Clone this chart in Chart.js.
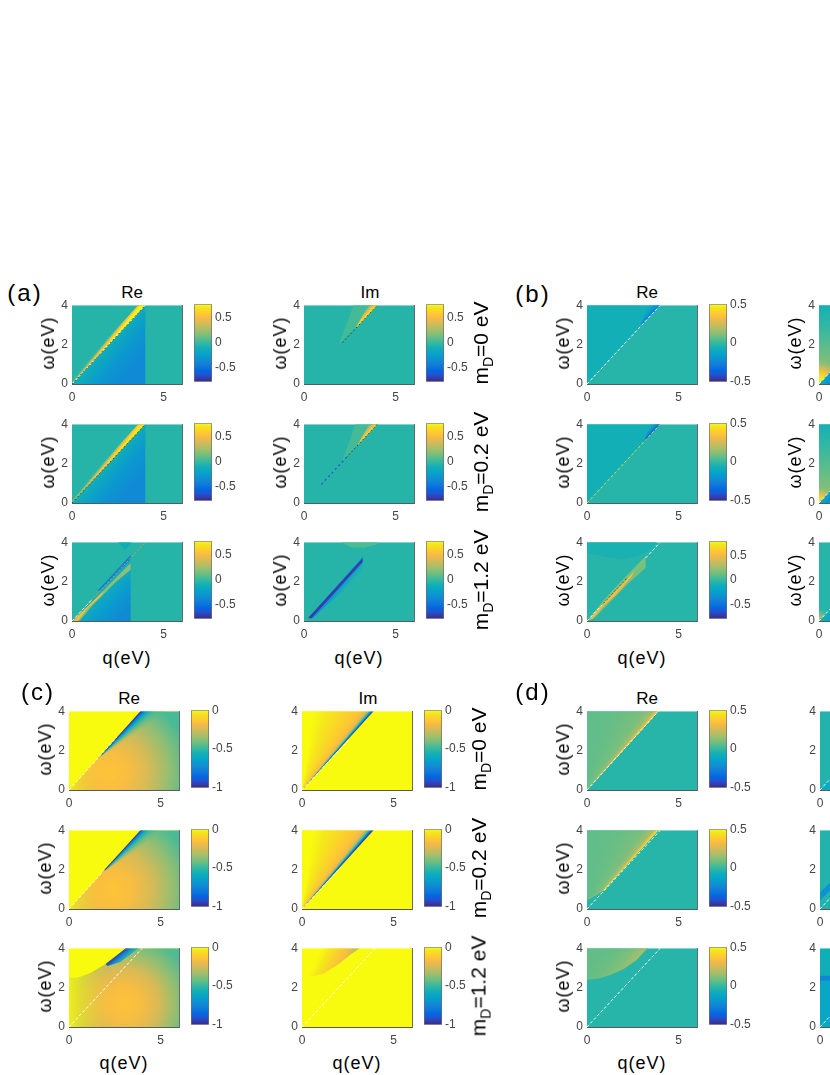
<!DOCTYPE html>
<html>
<head>
<meta charset="utf-8">
<title>Re / Im maps</title>
<script src="https://cdn.jsdelivr.net/npm/chart.js@4.4.1/dist/chart.umd.min.js"></script>
<style>
  html, body { margin: 0; padding: 0; background: #fff; }
  body { position: relative; width: 830px; height: 1075px; overflow: hidden;
         font-family: "Liberation Sans", Arial, Helvetica, sans-serif; color: #000; }
  canvas { position: absolute; }
  .txt { position: absolute; white-space: nowrap; line-height: 1; transform: translate(-50%, -50%); }
  .rot { transform: translate(-50%, -50%) rotate(-90deg); }
  .sub { font-size: 0.67em; position: relative; top: 0.32em; }
</style>
</head>
<body>
<script>
// axes of every map: q(eV) along x, omega(eV) along y
var qTicks = [0, 5];
var wTicks = [0, 2, 4];
var qRange = [0, 6];
var wRange = [0, 4];
var fullBox = [[0, 0], [6, 0], [6, 4], [0, 4]];

// colour bar limits and ticks
var limA = [-0.78, 0.78];
var limB = [-0.5, 0.5];
var limB3 = [-0.8, 0.8];
var limC = [-1, 0];
var limD = [-0.5, 0.5];
var cbTicksHalf = [-0.5, 0, 0.5];
var cbTicksC = [-1, -0.5, 0];

var massLabels = ['0', '0.2', '1.2'];

// regions of each map
// v: one value, lin / rad / fan: value stops across the region, l: dashed line
var aRe1 = [
  {p: fullBox, v: -0.04},
  {p: [[0, 0], [4, 4], [4, 0]], lin: [2, 2, 3.4, 0.9], s: [-0.12, -0.28, -0.36]},
  {p: [[0, 0], [4, 4], [3.6, 4], [0, 0.35]], lin: [2, 2, 1.74, 2.2], s: [0.76, 0.62, 0.35, [0.08, 0.5], [-0.04, 0]]},
  {l: [[0, 0], [4, 4]], k: 'white'},
  {l: [[0, 0], [4, 4]], k: 'dark'}
];
var aRe2 = [
  {p: fullBox, v: -0.04},
  {p: [[0, 0], [4, 4], [4, 0]], lin: [2, 2, 3.4, 0.9], s: [-0.12, -0.28, -0.36]},
  {p: [[0, 0], [4, 4], [3.6, 4], [0, 0.35]], lin: [2, 2, 1.74, 2.2], s: [0.7, 0.56, 0.3, [0.06, 0.5], [-0.04, 0]]},
  {l: [[0, 0], [4, 4]], k: 'dark'}
];
var aRe3 = [
  {p: fullBox, v: -0.04},
  {p: [[0, 0], [3.2, 3.1], [3.2, 0]], lin: [1.8, 1.7, 3.0, 0.6], s: [-0.1, -0.26, -0.35]},
  {p: [[0.05, 0], [1.2, 1.05], [2.4, 2.2], [3.2, 2.95], [3.2, 2.6], [2.3, 1.9], [1.1, 0.78], [0.4, 0]], v: 0.2},
  {p: [[0.05, 0], [1.0, 0.88], [1.7, 1.5], [1.6, 1.3], [0.9, 0.7], [0.3, 0]], v: 0.52},
  {p: [[1.4, 1.55], [3.2, 3.35], [3.2, 3.12], [1.5, 1.5]], v: -0.42},
  {p: [[2.5, 4], [2.9, 3.6], [3.25, 4]], v: -0.12},
  {l: [[0, 0], [4, 4]], k: 'orange'},
  {l: [[0, 0], [1.1, 1.1]], k: 'white'}
];
var aIm1 = [
  {p: fullBox, v: -0.04},
  {p: [[1.9, 2.0], [2.7, 4], [4, 4]], v: 0.04},
  {p: [[2.8, 2.8], [3.5, 4], [4, 4]], fan: [[1.0, 0.72], [1.04, 0.55], [1.09, 0.3], [1.15, 0.06, 0]]},
  {l: [[2.1, 2.1], [4, 4]], k: 'dark'}
];
var aIm2 = [
  {p: fullBox, v: -0.04},
  {p: [[2.1, 2.15], [2.8, 4], [4, 4]], v: 0.04},
  {p: [[2.9, 2.9], [3.55, 4], [4, 4]], fan: [[1.0, 0.65], [1.05, 0.45], [1.1, 0.2], [1.16, 0.05, 0]]},
  {l: [[0.95, 0.95], [2.3, 2.3]], k: 'blue'},
  {l: [[2.3, 2.3], [4, 4]], k: 'dark'}
];
var aIm3 = [
  {p: fullBox, v: -0.04},
  {p: [[2.0, 4], [2.6, 3.75], [3.3, 3.72], [4, 3.9], [4, 4]], v: 0.06},
  {p: [[0.25, 0.15], [3.2, 3.25], [3.2, 2.25], [2.2, 1.55], [1.0, 0.6], [0.5, 0.15]], lin: [1.7, 1.75, 2.15, 1.4], s: [-0.45, -0.3, [-0.18, 0.6], [-0.1, 0]]},
  {p: [[0.22, 0.15], [3.2, 3.2], [3.2, 3.0], [0.4, 0.13]], v: -0.7}
];

var bRe1 = [
  {p: fullBox, v: -0.025},
  {p: [[0, 0], [4, 4], [0, 4]], v: -0.065},
  {p: [[2.9, 2.9], [3.3, 4], [4, 4]], fan: [[1.0, -0.28], [1.06, -0.19], [1.15, -0.11, 0.5], [1.22, -0.065, 0]]},
  {l: [[0, 0], [4, 4]], k: 'white'}
];
var bRe2 = [
  {p: fullBox, v: -0.025},
  {p: [[0, 0], [4, 4], [0, 4]], v: -0.065},
  {p: [[3.1, 3.1], [3.45, 4], [4, 4]], fan: [[1.0, -0.36], [1.05, -0.24], [1.12, -0.11, 0.5], [1.18, -0.065, 0]]},
  {l: [[0, 0], [4, 4]], k: 'yellow'}
];
var bRe3 = [
  {p: fullBox, v: -0.04},
  {p: [[0, 4], [0, 3.45], [1.0, 3.25], [2.0, 3.15], [2.8, 3.3], [3.4, 3.6], [3.8, 4]], v: -0.08},
  {p: [[0, 0], [0.9, 1.05], [1.9, 2.05], [3.2, 3.3], [3.2, 2.7], [2.2, 1.85], [1.2, 0.9], [0.4, 0.15]], v: 0.16},
  {p: [[0.1, 0.05], [1.0, 1.0], [1.9, 1.85], [2.6, 2.55], [2.4, 2.2], [1.6, 1.35], [0.9, 0.75], [0.3, 0.1]], v: 0.5},
  {l: [[0, 0], [0.8, 0.8]], k: 'white'},
  {l: [[3.2, 3.2], [4, 4]], k: 'white'},
  {l: [[0.9, 0.9], [2.2, 2.2]], k: 'dark'}
];
var bIm1 = [
  {p: fullBox, v: -0.03},
  {p: [[0, 0], [4, 4], [0, 4]], lin: [0, 4, 0, 0.6], s: [-0.06, 0.0, 0.07, 0.14]},
  {p: [[0, 0], [1.6, 1.6], [0, 1.6]], rad: [0, 0, 1.3], s: [0.5, 0.45, [0.3, 0.8], [0.15, 0]]},
  {p: [[0, 0], [4, 4], [4, 0]], lin: [0.3, 0.3, 0.9, -0.1], s: [-0.12, -0.28]},
  {l: [[0, 0], [4, 4]], k: 'white'}
];
var bIm2 = [
  {p: fullBox, v: -0.03},
  {p: [[0, 0], [4, 4], [0, 4]], lin: [0, 4, 0, 0.6], s: [-0.06, 0.0, 0.06, 0.12]},
  {p: [[0, 0], [1.2, 1.2], [0, 1.2]], rad: [0, 0, 0.9], s: [0.48, 0.4, [0.25, 0.8], [0.12, 0]]},
  {p: [[0, 0], [4, 4], [4, 0]], lin: [0.3, 0.3, 0.9, -0.1], s: [-0.12, -0.28]},
  {l: [[0, 0], [4, 4]], k: 'white'}
];
var bIm3 = [
  {p: fullBox, v: -0.04},
  {p: [[0, 0], [0.9, 0.9], [0, 0.9]], rad: [0, 0, 0.7], s: [0.45, [0.25, 0.7], [0.1, 0]]},
  {p: [[0, 0], [4, 4], [4, 0]], lin: [0.2, 0.2, 0.8, -0.2], s: [-0.1, -0.25]},
  {l: [[0, 0], [4, 4]], k: 'white'}
];

var cRe1 = [
  {p: fullBox, v: 0},
  {p: [[0, 0], [3.9, 4], [6, 4], [6, 0]], rad: [2.2, 0.9, 4.4], s: [-0.14, -0.17, -0.25, -0.36, -0.47]},
  {p: [[0, 0], [3.9, 4], [6, 4], [6, 0]], lin: [0, 0, 1.8, 0], s: [[-0.03, 0.9], [-0.08, 0.45], [-0.12, 0]]},
  {p: [[1.6, 1.63], [3.9, 4], [5.7, 4]], o: [1.6, 1.6], fan: [[1.04, -1], [0.98, -0.82], [0.92, -0.65], [0.84, -0.55, 0.8], [0.73, -0.47, 0.4], [0.63, -0.45, 0]]},
  {l: [[0, 0], [2.6, 2.67]], k: 'white'}
];
var cRe2 = [
  {p: fullBox, v: 0},
  {p: [[0, 0], [3.9, 4], [6, 4], [6, 0]], rad: [2.4, 1.0, 4.4], s: [-0.14, -0.17, -0.25, -0.36, -0.47]},
  {p: [[0, 0], [3.9, 4], [6, 4], [6, 0]], lin: [0, 0, 1.8, 0], s: [[-0.03, 0.9], [-0.08, 0.45], [-0.12, 0]]},
  {p: [[1.8, 1.85], [3.9, 4], [5.5, 4]], o: [1.8, 1.8], fan: [[1.05, -1], [0.99, -0.8], [0.93, -0.62], [0.85, -0.53, 0.8], [0.74, -0.47, 0.4], [0.64, -0.45, 0]]},
  {l: [[0, 0], [2.0, 2.05]], k: 'white'}
];
var cRe3Edge = [[0, 0], [0, 2.45], [0.5, 2.5], [1.2, 2.75], [2.0, 3.2], [2.7, 3.7], [3.1, 4], [6, 4], [6, 0]];
var cRe3 = [
  {p: fullBox, v: 0},
  {p: cRe3Edge, rad: [3.0, 1.2, 3.8], s: [-0.15, -0.17, -0.24, -0.36, -0.46]},
  {p: cRe3Edge, lin: [0, 0, 2.2, 0], s: [[-0.02, 0.95], [-0.06, 0.5], [-0.12, 0]]},
  {p: [[2.0, 3.2], [2.7, 3.7], [3.1, 4], [3.8, 4], [2.8, 3.3], [2.1, 3.1]], lin: [2.75, 3.75, 3.2, 3.25], s: [-0.95, -0.7, [-0.55, 0.8], [-0.45, 0]]},
  {l: [[0, 0], [4, 4]], k: 'white'}
];
var cIm1 = [
  {p: fullBox, v: 0},
  {p: [[0, 0], [3.9, 4], [0, 4]], fan: [[1.025, -1], [1.045, -0.85], [1.07, -0.58], [1.1, -0.38], [1.15, -0.2], [1.3, -0.14], [1.7, -0.09], [3, -0.04], [7, 0]]},
  {l: [[0, 0], [2.6, 2.6]], k: 'white'}
];
var cIm2 = [
  {p: fullBox, v: 0},
  {p: [[0, 0], [3.9, 4], [0, 4]], fan: [[1.025, -1], [1.05, -0.9], [1.08, -0.6], [1.12, -0.38], [1.18, -0.2], [1.35, -0.14], [1.8, -0.09], [3, -0.04], [7, 0]]},
  {l: [[0, 0], [2.2, 2.2]], k: 'white'}
];
var cIm3 = [
  {p: fullBox, v: 0},
  {p: [[0.3, 2.5], [1.2, 2.72], [2.0, 3.2], [2.7, 3.72], [3.15, 4], [0.3, 4]], lin: [2.95, 3.8, 1.3, 4.6], s: [-0.32, -0.17, -0.1, -0.04, [0, 0]]},
  {l: [[0, 0], [4, 4]], k: 'white'}
];

var dRe1 = [
  {p: fullBox, v: -0.025},
  {p: [[0, 0], [3.9, 4], [0, 4]], fan: [[1.025, 0.48], [1.05, 0.32], [1.1, 0.16], [1.3, 0.1], [2.2, 0.075], [6, 0.065]]},
  {l: [[0, 0], [3.9, 4]], k: 'white'}
];
var dRe2 = [
  {p: fullBox, v: -0.025},
  {p: [[0, 0.45], [0.5, 0.68], [1.0, 1.0], [1.2, 1.23], [3.9, 4], [0, 4]], fan: [[1.025, 0.5], [1.05, 0.34], [1.1, 0.17], [1.3, 0.1], [2.2, 0.075], [6, 0.065]]},
  {l: [[0, 0], [4, 4]], k: 'white'}
];
var dRe3 = [
  {p: fullBox, v: -0.025},
  {p: [[0, 2.4], [0.6, 2.45], [1.3, 2.65], [2.0, 2.95], [2.7, 3.4], [3.3, 4], [0, 4]], lin: [2.7, 3.3, 1.4, 4.3], s: [0.18, 0.11, 0.08, 0.07]},
  {l: [[0, 0], [4, 4]], k: 'white'}
];
var dIm1 = [
  {p: fullBox, v: -0.035},
  {p: [[0, 0], [1.5, 1.5], [1.5, 0]], v: -0.1},
  {l: [[0, 0], [4, 4]], k: 'white'}
];
var dIm2 = [
  {p: fullBox, v: -0.035},
  {p: [[0, 0.45], [0, 0.85], [1.2, 1.9], [1.2, 1.5]], v: -0.2},
  {l: [[0, 0], [4, 4]], k: 'white'}
];
var dIm3 = [
  {p: fullBox, v: -0.07},
  {p: [[0, 0], [0, 2.4], [1.5, 2.4], [1.5, 0]], v: -0.12},
  {p: [[0, 2.35], [0, 2.6], [1.5, 2.6], [1.5, 2.35]], v: -0.24},
  {l: [[0, 0], [4, 4]], k: 'white'}
];

// ---- styles ----
var lineStyles = {
  white: {color: 'rgba(255,255,255,0.95)', width: 1, dash: [3, 2]},
  dark: {color: 'rgba(60,45,20,0.85)', width: 1, dash: [1.5, 2.5]},
  orange: {color: 'rgba(235,160,40,0.95)', width: 1, dash: [2, 2]},
  blue: {color: 'rgba(50,70,220,0.95)', width: 1.2, dash: [2, 3]},
  yellow: {color: 'rgba(230,220,60,0.95)', width: 1, dash: [3, 2]}
};

// parula colour map
var parula = [
  [0 / 63, 0.2081, 0.1663, 0.5292], [3 / 63, 0.2081, 0.2386, 0.6771],
  [6 / 63, 0.1253, 0.3242, 0.8303], [9 / 63, 0.0060, 0.4086, 0.8828],
  [13 / 63, 0.0629, 0.4737, 0.8554], [18 / 63, 0.0641, 0.5570, 0.8240],
  [22 / 63, 0.0239, 0.6287, 0.8038], [27 / 63, 0.0590, 0.6838, 0.7254],
  [32 / 63, 0.2178, 0.7250, 0.6193], [37 / 63, 0.4420, 0.7481, 0.5033],
  [42 / 63, 0.6473, 0.7456, 0.4188], [47 / 63, 0.8185, 0.7327, 0.3498],
  [51 / 63, 0.9450, 0.7261, 0.2886], [54 / 63, 0.9990, 0.7653, 0.2164],
  [57 / 63, 0.9789, 0.8271, 0.1633], [60 / 63, 0.9589, 0.8949, 0.1132],
  [63 / 63, 0.9763, 0.9831, 0.0538]
];

function parulaRgb(t) {
  t = Math.max(0, Math.min(1, t));
  for (var i = 1; i < parula.length; i++) {
    if (t <= parula[i][0]) {
      var a = parula[i - 1], b = parula[i];
      var f = (t - a[0]) / (b[0] - a[0]);
      return [1, 2, 3].map(function (j) { return Math.round(255 * (a[j] + f * (b[j] - a[j]))); });
    }
  }
  return [249, 251, 14];
}

function colorOf(v, lim, a) {
  var c = parulaRgb((v - lim[0]) / (lim[1] - lim[0]));
  return 'rgba(' + c[0] + ',' + c[1] + ',' + c[2] + ',' + (a === undefined ? 1 : a) + ')';
}

function stopOf(s) {
  return Array.isArray(s) ? s : [s, 1];
}

// builds the fill of one region from the chart's own scales
function paint(chart, it, lim) {
  if (it.v !== undefined) return colorOf(it.v, lim, 1);
  var xs = chart.scales.x, ys = chart.scales.y, c = chart.ctx;
  if (!chart.chartArea || !xs || !ys) return 'rgba(0,0,0,0)';
  var X = function (q) { return xs.getPixelForValue(q); };
  var Y = function (w) { return ys.getPixelForValue(w); };
  if (!isFinite(X(0)) || !isFinite(Y(0))) return 'rgba(0,0,0,0)';
  var g, stops;
  if (it.lin) {
    g = c.createLinearGradient(X(it.lin[0]), Y(it.lin[1]), X(it.lin[2]), Y(it.lin[3]));
    stops = it.s.map(function (s, i) { return [i / (it.s.length - 1), stopOf(s)]; });
  } else if (it.rad) {
    var r = it.rad[2] * (X(1) - X(0));
    g = c.createRadialGradient(X(it.rad[0]), Y(it.rad[1]), 0, X(it.rad[0]), Y(it.rad[1]), r);
    stops = it.s.map(function (s, i) { return [i / (it.s.length - 1), stopOf(s)]; });
  } else if (it.fan) {
    var o = it.o || [0, 0];
    var ox = X(o[0]), oy = Y(o[1]);
    if (!c.createConicGradient) return colorOf(it.fan[Math.floor(it.fan.length / 2)][1], lim, 1);
    g = c.createConicGradient(-Math.PI / 2, ox, oy);
    stops = it.fan.map(function (f) {
      var ang = Math.atan2(Y(o[1] + f[0]) - oy, X(o[0] + 1) - ox) + Math.PI / 2;
      return [ang / (2 * Math.PI), [f[1], f[2] === undefined ? 1 : f[2]]];
    }).sort(function (a, b) { return a[0] - b[0]; });
  }
  stops.forEach(function (s) { g.addColorStop(s[0], colorOf(s[1][0], lim, s[1][1])); });
  return g;
}

Chart.defaults.font.family = '"Liberation Sans", Arial, Helvetica, sans-serif';
Chart.defaults.font.size = 12;
Chart.defaults.color = '#444444';

var AX_W = 110, AX_H = 82, PAD_L = 22, PAD_T = 8, PAD_R = 8, PAD_B = 22, CB_W = 18, CB_LAB = 36;

function makeCanvas(left, top, w, h) {
  var cv = document.createElement('canvas');
  cv.width = w; cv.height = h;
  cv.style.left = left + 'px'; cv.style.top = top + 'px';
  cv.style.width = w + 'px'; cv.style.height = h + 'px';
  document.body.appendChild(cv);
  return cv;
}

function tickList(values) {
  return function (s) { s.ticks = values.map(function (v) { return {value: v}; }); };
}

var noGrid = {display: false, drawTicks: false, tickLength: 0};

function drawMap(left, top, lim, items) {
  var cv = makeCanvas(left - PAD_L, top - PAD_T, AX_W + PAD_L + PAD_R, AX_H + PAD_T + PAD_B);
  var sets = items.map(function (it, i) {
    var pts = it.l ? it.l : it.p.concat([it.p[0]]);
    var ds = {
      data: pts.map(function (d) { return {x: d[0], y: d[1]}; }),
      pointRadius: 0, pointHoverRadius: 0, pointBorderWidth: 0,
      pointBackgroundColor: 'rgba(0,0,0,0)', pointBorderColor: 'rgba(0,0,0,0)',
      tension: 0, order: 1000 - i, xAxisID: 'x', yAxisID: 'y'
    };
    if (it.l) {
      var st = lineStyles[it.k];
      ds.borderColor = st.color; ds.borderWidth = st.width; ds.borderDash = st.dash; ds.fill = false;
    } else {
      ds.fill = 'shape'; ds.borderWidth = 0; ds.borderColor = 'rgba(0,0,0,0)';
      ds.backgroundColor = function (ctx) { return paint(ctx.chart, it, lim); };
    }
    return ds;
  });
  new Chart(cv, {
    type: 'line',
    data: {datasets: sets},
    options: {
      responsive: false, animation: false, events: [],
      layout: {padding: {left: 0, top: PAD_T, right: PAD_R, bottom: 0}},
      plugins: {legend: {display: false}, tooltip: {enabled: false}},
      scales: {
        x: {
          type: 'linear', min: qRange[0], max: qRange[1],
          grid: noGrid, border: {display: true, color: '#5a5a5a', width: 1},
          ticks: {padding: 6, maxRotation: 0, autoSkip: false, callback: function (v) { return String(v); }},
          afterBuildTicks: tickList(qTicks),
          afterFit: function (s) { s.height = PAD_B; }
        },
        y: {
          type: 'linear', min: wRange[0], max: wRange[1],
          grid: noGrid, border: {display: false},
          ticks: {padding: 4, autoSkip: false, callback: function (v) { return String(v); }},
          afterBuildTicks: tickList(wTicks),
          afterFit: function (s) { s.width = PAD_L; }
        },
        yr: {
          type: 'linear', axis: 'y', position: 'right', min: wRange[0], max: wRange[1],
          grid: noGrid, ticks: {display: false},
          border: {display: true, color: '#6a6a6a', width: 1},
          afterFit: function (s) { s.width = 0; }
        }
      }
    }
  });
}

function drawColorBar(left, top, lim, ticks) {
  var cv = makeCanvas(left, top - PAD_T, CB_W + CB_LAB, AX_H + PAD_T + 8);
  new Chart(cv, {
    type: 'bar',
    data: {
      labels: [''],
      datasets: [{
        data: [[lim[0], lim[1]]],
        backgroundColor: function (ctx) {
          var ch = ctx.chart, ys = ch.scales.y;
          if (!ch.chartArea || !ys) return 'rgba(0,0,0,0)';
          var y0 = ys.getPixelForValue(lim[0]), y1 = ys.getPixelForValue(lim[1]);
          if (!isFinite(y0) || !isFinite(y1)) return 'rgba(0,0,0,0)';
          var g = ch.ctx.createLinearGradient(0, y0, 0, y1);
          parula.forEach(function (p) {
            g.addColorStop(p[0], 'rgb(' + Math.round(p[1] * 255) + ',' + Math.round(p[2] * 255) + ',' + Math.round(p[3] * 255) + ')');
          });
          return g;
        },
        borderColor: '#6e6e6e', borderWidth: 1, borderSkipped: false,
        barPercentage: 1, categoryPercentage: 1
      }]
    },
    options: {
      responsive: false, animation: false, events: [],
      layout: {padding: {left: 0, top: PAD_T, right: 0, bottom: 8}},
      plugins: {legend: {display: false}, tooltip: {enabled: false}},
      scales: {
        x: {display: false},
        y: {
          position: 'right', min: lim[0], max: lim[1],
          grid: noGrid, border: {display: false},
          ticks: {padding: 3, autoSkip: false, callback: function (v) { return String(v); }},
          afterBuildTicks: tickList(ticks),
          afterFit: function (s) { s.width = CB_LAB; }
        }
      }
    }
  });
}

function addText(html, cx, cy, size, rot, extra) {
  var d = document.createElement('div');
  d.className = 'txt' + (rot ? ' rot' : '');
  d.innerHTML = html;
  d.style.left = cx + 'px';
  d.style.top = cy + 'px';
  d.style.fontSize = size + 'px';
  if (extra) d.style.cssText += extra;
  document.body.appendChild(d);
}

// ---- layout of the four panels ----
var panels = [
  {tag: '(a)', tagAt: [25, 293], tops: [302, 421, 539], qY: 658, cols: [
    {left: 72, title: 'Re', ylab: true, lims: [limA, limA, limA], ticks: cbTicksHalf, maps: [aRe1, aRe2, aRe3]},
    {left: 304, title: 'Im', ylab: true, mass: true, lims: [limA, limA, limA], ticks: cbTicksHalf, maps: [aIm1, aIm2, aIm3]}
  ]},
  {tag: '(b)', tagAt: [533, 294], tops: [302, 421, 539], qY: 658, cols: [
    {left: 587, title: 'Re', ylab: true, lims: [limB, limB, limB3], ticks: cbTicksHalf, maps: [bRe1, bRe2, bRe3]},
    {left: 819, title: 'Im', ylab: true, lims: [limB, limB, limB3], ticks: cbTicksHalf, maps: [bIm1, bIm2, bIm3]}
  ]},
  {tag: '(c)', tagAt: [38, 692], tops: [708, 827, 945], qY: 1063, cols: [
    {left: 69, title: 'Re', ylab: true, lims: [limC, limC, limC], ticks: cbTicksC, maps: [cRe1, cRe2, cRe3]},
    {left: 302, title: 'Im', ylab: false, mass: true, lims: [limC, limC, limC], ticks: cbTicksC, maps: [cIm1, cIm2, cIm3]}
  ]},
  {tag: '(d)', tagAt: [533, 692], tops: [708, 827, 945], qY: 1063, cols: [
    {left: 587, title: 'Re', ylab: true, lims: [limD, limD, limD], ticks: cbTicksHalf, maps: [dRe1, dRe2, dRe3]},
    {left: 820, title: 'Im', ylab: false, lims: [limD, limD, limD], ticks: cbTicksHalf, maps: [dIm1, dIm2, dIm3]}
  ]}
];

var PAGE_W = 830;

panels.forEach(function (pn) {
  addText(pn.tag, pn.tagAt[0], pn.tagAt[1], 24, false, 'letter-spacing:2px;');
  pn.cols.forEach(function (col) {
    var onPage = col.left + AX_W / 2 < PAGE_W;
    if (onPage) {
      addText(col.title, col.left + (col.title === 'Re' ? 60 : 66), pn.tops[0] - 10, 17, false);
      addText('q(eV)', col.left + 55, pn.qY, 18, false, 'letter-spacing:1px;');
    }
    pn.tops.forEach(function (top, r) {
      drawMap(col.left, top, col.lims[r], col.maps[r]);
      if (col.left + 122 < PAGE_W) drawColorBar(col.left + 122, top, col.lims[r], col.ticks);
      if (col.ylab) addText('\u03c9(eV)', col.left - 24, top + AX_H / 2, 18, true, 'letter-spacing:1px;');
      if (col.mass) addText('m<span class="sub">D</span>=' + massLabels[r] + ' eV', col.left + 176, top + AX_H / 2, 21, true);
    });
  });
});
</script>
</body>
</html>
